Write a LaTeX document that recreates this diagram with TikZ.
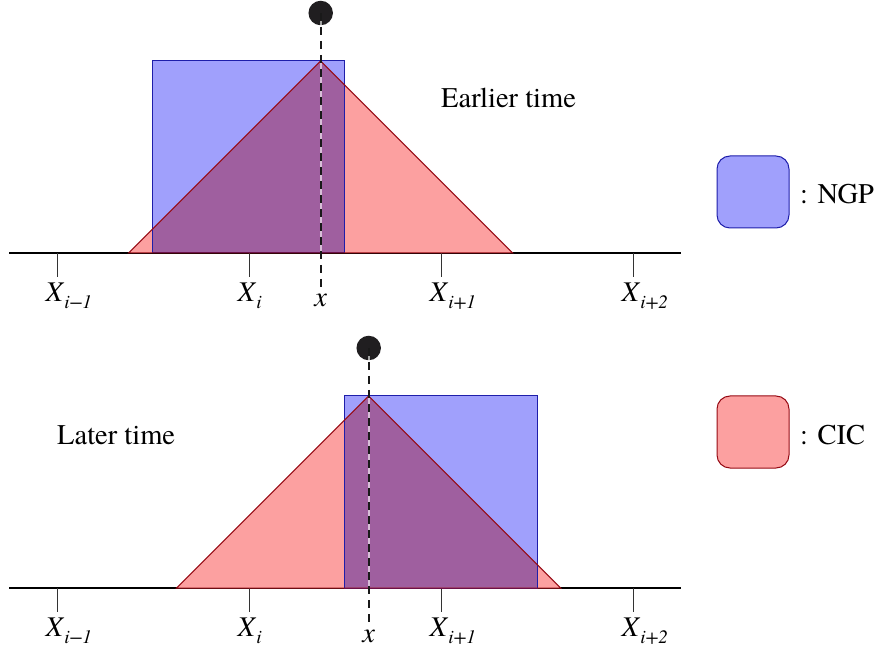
\documentclass[tikz,border=0pt]{standalone}
\usepackage{fontspec}
\setmainfont{texgyretermes}[Extension=.otf, UprightFont=*-regular, ItalicFont=*-italic, BoldFont=*-bold, BoldItalicFont=*-bolditalic]
\definecolor{ngpfill}{RGB}{160,160,252}
\definecolor{cicfill}{RGB}{252,160,160}
\definecolor{mixfill}{RGB}{159,95,159}
\definecolor{ngpedge}{RGB}{30,30,170}
\definecolor{cicedge}{RGB}{150,10,20}
\definecolor{dotcol}{RGB}{32,30,32}
\newcommand\mysubs[1]{\raisebox{-7pt}{\fontsize{19}{20}\selectfont\itshape #1}}
\tikzset{
  lab/.style={inner sep=0pt, font=\fontsize{28.5}{34}\selectfont},
  axisline/.style={line width=1.2pt, black},
  tickline/.style={line width=1pt, black!80},
  ngpshape/.style={fill=ngpfill},
  cicshape/.style={fill=cicfill},
  ngpline/.style={draw=ngpedge, line width=1pt},
  cicline/.style={draw=cicedge, line width=1pt},
  dashline/.style={line width=1.6pt, black!90, dash pattern=on 8pt off 6pt},
  gapline/.style={line width=1.6pt, white, opacity=0.6},
  particle/.style={circle, fill=dotcol, minimum size=24.5pt, inner sep=0pt},
  legbox/.style={minimum width=72pt, minimum height=72pt, rounded corners=13pt, inner sep=0pt, line width=1pt}
}
\begin{document}
\begin{tikzpicture}[x=1pt,y=-1pt]
\useasboundingbox (0,0) rectangle (876,652);
% ---------- panels ----------
\foreach \dy/\rl/\px in {0/152.3/320.7, 335/344.8/368.7}{
  \begin{scope}[yshift=-\dy pt]
    % axis
    \draw[axisline] (9,253) -- (681,253);
    \foreach \tx in {57,249,441,633}{
      \draw[tickline] (\tx,253) -- (\tx,277);
    }
    % fills
    \fill[ngpshape] (\rl,61) rectangle (\rl+192.5,253);
    \fill[cicshape] (\px-192,253) -- (\px,61) -- (\px+192,253) -- cycle;
    \begin{scope}
      \clip (\rl,61) rectangle (\rl+192.5,253);
      \fill[mixfill] (\px-192,253) -- (\px,61) -- (\px+192,253) -- cycle;
    \end{scope}
    % outlines
    \draw[ngpline] (\rl,61) rectangle (\rl+192.5,253);
    \draw[cicline] (\px-192,253) -- (\px,61) -- (\px+192,253) -- cycle;
    % particle
    \node[particle] (p\dy) at (\px,13) {};
    \coordinate (e\dy) at (\px,290);
    \draw[gapline] (p\dy.center) -- (e\dy);
    \draw[dashline] (p\dy.center) -- (e\dy);
  \end{scope}
}
% ---------- labels top ----------
\node[lab, anchor=base] (a1) at (55,302) {\textit{X}\rlap{\mysubs{i−1}}};
\node[lab, anchor=base] (a2) at (247,302) {\textit{X}\rlap{\mysubs{i}}};
\node[lab, anchor=base] (a3) at (439,302) {\textit{X}\rlap{\mysubs{i+1}}};
\node[lab, anchor=base] (a4) at (631,302) {\textit{X}\rlap{\mysubs{i+2}}};
\node[lab, anchor=base] (ax) at (320.7,307) {\textit{x}};
\node[lab, anchor=base west] (early) at (441,108) {Earlier time};
% ---------- labels bottom ----------
\node[lab, anchor=base] (b1) at (55,636) {\textit{X}\rlap{\mysubs{i−1}}};
\node[lab, anchor=base] (b2) at (247,636) {\textit{X}\rlap{\mysubs{i}}};
\node[lab, anchor=base] (b3) at (439,636) {\textit{X}\rlap{\mysubs{i+1}}};
\node[lab, anchor=base] (b4) at (631,636) {\textit{X}\rlap{\mysubs{i+2}}};
\node[lab, anchor=base] (bx) at (368.7,642) {\textit{x}};
\node[lab, anchor=base west] (late) at (57,444) {Later time};
% ---------- legend ----------
\node[legbox, fill=ngpfill, draw=ngpedge] (lngp) at (753,192) {};
\node[lab, anchor=base west] (tngp) at (800,204) {: NGP};
\node[legbox, fill=cicfill, draw=cicedge] (lcic) at (753,432) {};
\node[lab, anchor=base west] (tcic) at (800,444) {: CIC};
\end{tikzpicture}
\end{document}
